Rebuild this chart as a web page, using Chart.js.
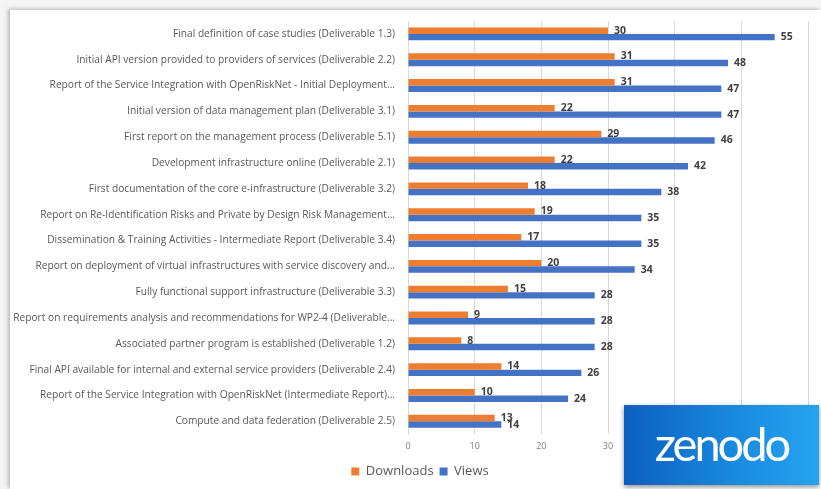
<!DOCTYPE html>
<html>
<head>
<meta charset="utf-8">
<script src="https://cdn.jsdelivr.net/npm/chart.js@4/dist/chart.umd.min.js"></script>
<style>
  html, body { margin: 0; padding: 0; background: #f4f4f4; }
  body { width: 821px; height: 489px; overflow: hidden; position: relative; }
  #panel {
    position: absolute; left: 10px; top: 10px; width: 811px; height: 479px;
    background: #fff; box-shadow: -2px -1px 4px rgba(0,0,0,0.25);
  }
  #wrap { position: absolute; left: 0; top: 0; width: 821px; height: 489px; }
  #logo {
    position: absolute; left: 624px; top: 405px; width: 195px; height: 80px;
    background: linear-gradient(90deg, #0b5fc0 0%, #1a8ce0 60%, #25a3f0 100%);
    box-shadow: 0 2px 5px rgba(0,0,0,0.45);
    color: #fff; font-family: "Lato", sans-serif; font-weight: 400;
    font-size: 47px; line-height: 76px; text-align: center; letter-spacing: -3px;
  }
</style>
</head>
<body>
<div id="panel"></div>
<div id="wrap"><canvas id="chart" width="821" height="489"></canvas></div>
<div id="logo">zenodo</div>
<script>
const deliverables = [
    'Final definition of case studies (Deliverable 1.3)',
    'Initial API version provided to providers of services (Deliverable 2.2)',
    'Report of the Service Integration with OpenRiskNet - Initial Deployment...',
    'Initial version of data management plan (Deliverable 3.1)',
    'First report on the management process (Deliverable 5.1)',
    'Development infrastructure online (Deliverable 2.1)',
    'First documentation of the core e-infrastructure (Deliverable 3.2)',
    'Report on Re-Identification Risks and Private by Design Risk Management...',
    'Dissemination & Training Activities - Intermediate Report (Deliverable 3.4)',
    'Report on deployment of virtual infrastructures with service discovery and...',
    'Fully functional support infrastructure (Deliverable 3.3)',
    'Report on requirements analysis and recommendations for WP2-4 (Deliverable...',
    'Associated partner program is established (Deliverable 1.2)',
    'Final API available for internal and external service providers (Deliverable 2.4)',
    'Report of the Service Integration with OpenRiskNet (Intermediate Report)...',
    'Compute and data federation (Deliverable 2.5)'
];
const downloads = [30, 31, 31, 22, 29, 22, 18, 19, 17, 20, 15, 9, 8, 14, 10, 13];
const views = [55, 48, 47, 47, 46, 42, 38, 35, 35, 34, 28, 28, 28, 26, 24, 14];

// value labels at the end of each bar
const barValues = {
    id: 'barValues',
    afterDatasetsDraw(chart) {
        const ctx = chart.ctx;
        ctx.save();
        ctx.font = 'bold 10.5px "Open Sans", sans-serif';
        ctx.fillStyle = '#404040';
        ctx.textAlign = 'left';
        ctx.textBaseline = 'middle';
        chart.data.datasets.forEach((ds, i) => {
            chart.getDatasetMeta(i).data.forEach((bar, j) => {
                ctx.fillText(ds.data[j], bar.x + 6, bar.y);
            });
        });
        ctx.restore();
    }
};

// legend sits a bit right of the canvas centre in the original
const legendShift = {
    id: 'legendShift',
    afterLayout(chart) {
        chart.legend.left += 14;
        chart.legend.right += 14;
    }
};

const chartConfig = {
    type: 'bar',
    data: {
        labels: deliverables,
        datasets: [
            { label: 'Downloads', data: downloads, backgroundColor: '#ED7D31' },
            { label: 'Views', data: views, backgroundColor: '#4472C4' }
        ]
    },
    options: {
        indexAxis: 'y',
        responsive: false,
        animation: false,
        layout: { padding: { top: 21, right: 13, bottom: 1, left: 4 } },
        datasets: { bar: { categoryPercentage: 0.5, barPercentage: 1.0 } },
        plugins: {
            legend: {
                position: 'bottom',
                labels: {
                    boxWidth: 8, boxHeight: 8, padding: 6,
                    color: '#595959',
                    font: { family: '"Open Sans", sans-serif', size: 13 }
                }
            },
            tooltip: { enabled: false }
        },
        scales: {
            x: {
                min: 0, max: 60,
                ticks: { stepSize: 10, padding: 7, color: '#7f7f7f', font: { family: '"Open Sans", sans-serif', size: 9 } },
                grid: { color: '#d9d9d9', drawTicks: false },
                border: { display: false }
            },
            y: {
                afterFit(scale) { scale.width = 404; },
                ticks: { color: '#595959', padding: 5, font: { family: '"Open Sans", sans-serif', size: 10.2 } },
                grid: { display: false },
                border: { color: '#d9d9d9' }
            }
        }
    },
    plugins: [barValues, legendShift]
};

window.onload = function () {
    const ctx = document.getElementById('chart').getContext('2d');
    new Chart(ctx, chartConfig);
};
</script>
</body>
</html>
